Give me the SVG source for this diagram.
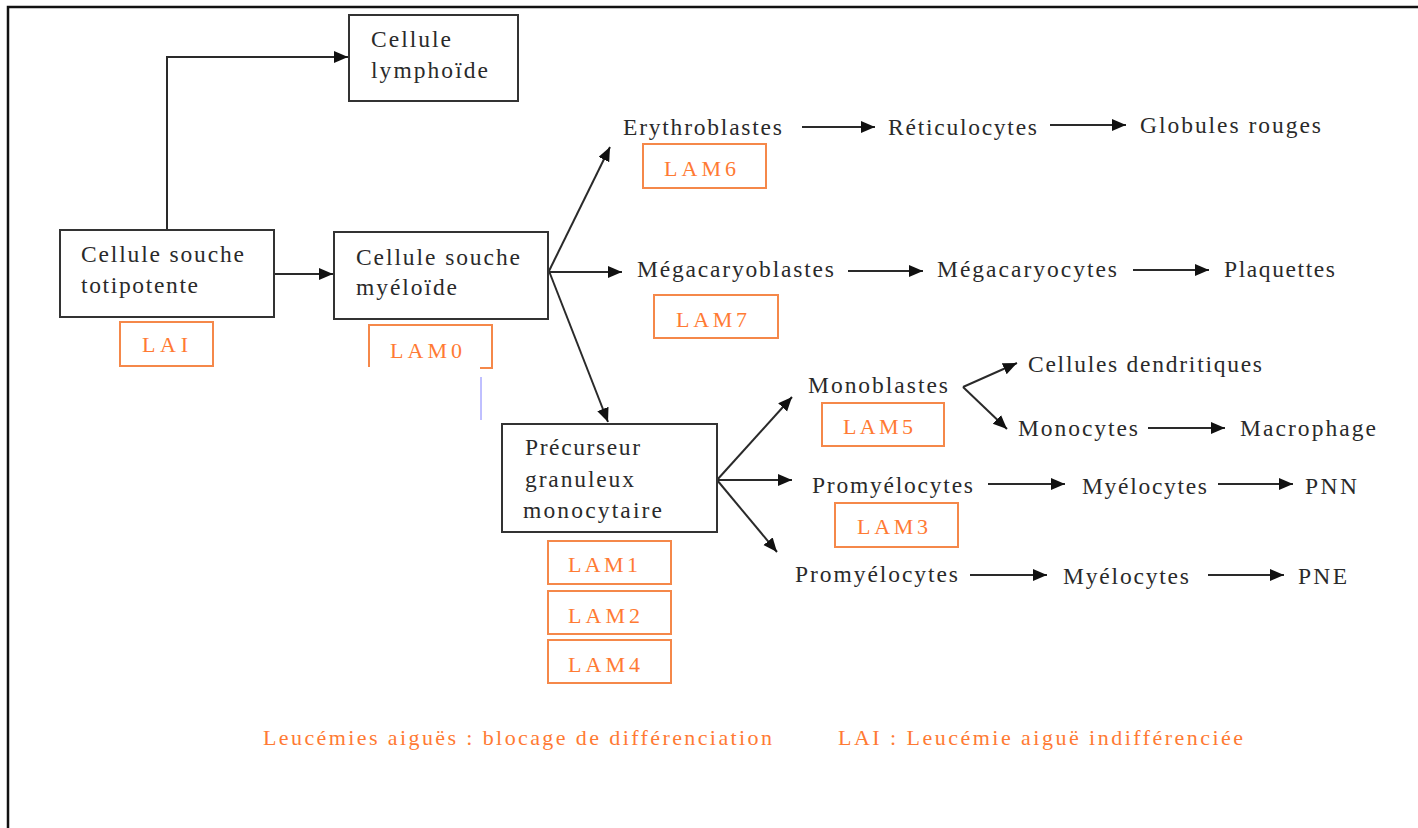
<svg xmlns="http://www.w3.org/2000/svg" width="1418" height="828" viewBox="0 0 1418 828">
<style>
.bg{fill:#fff}
.frame{fill:none;stroke:#111;stroke-width:2.5}
.box{fill:#fff;stroke:#333;stroke-width:2}
.obox{fill:none;stroke:#F5884A;stroke-width:2}
.t{font-family:"Liberation Serif",serif;font-size:23.5px;fill:#2a2a2a}
.o{font-family:"Liberation Serif",serif;font-size:22px;fill:#FF7A33}
.leg{font-family:"Liberation Serif",serif;font-size:22px;fill:#FF7A33}
.c{fill:none;stroke:#2a2a2a;stroke-width:2}
</style>
<defs>
<marker id="ah" markerUnits="userSpaceOnUse" markerWidth="15" markerHeight="13" refX="14" refY="6" orient="auto">
<path d="M0,0 L14,6 L0,12 z" fill="#111"/>
</marker>
</defs>
<rect class="bg" x="0" y="0" width="1418" height="828"/>
<path class="frame" d="M8,828 V7 H1418"/>

<g id="connectors">
<path class="c" d="M167,230 V57 H348" marker-end="url(#ah)"/>
<line class="c" x1="274" y1="274" x2="333" y2="274" marker-end="url(#ah)"/>
<line class="c" x1="549" y1="271" x2="610" y2="147" marker-end="url(#ah)"/>
<line class="c" x1="549" y1="272" x2="622" y2="272" marker-end="url(#ah)"/>
<line class="c" x1="549" y1="271" x2="608" y2="422" marker-end="url(#ah)"/>
<line class="c" x1="802" y1="127" x2="875" y2="127" marker-end="url(#ah)"/>
<line class="c" x1="1050" y1="125" x2="1126" y2="125" marker-end="url(#ah)"/>
<line class="c" x1="848" y1="271" x2="923" y2="271" marker-end="url(#ah)"/>
<line class="c" x1="1133" y1="270" x2="1209" y2="270" marker-end="url(#ah)"/>
<line class="c" x1="717" y1="480" x2="792" y2="397" marker-end="url(#ah)"/>
<line class="c" x1="717" y1="480" x2="792" y2="480" marker-end="url(#ah)"/>
<line class="c" x1="717" y1="480" x2="777" y2="552" marker-end="url(#ah)"/>
<line class="c" x1="963" y1="387" x2="1017" y2="363" marker-end="url(#ah)"/>
<line class="c" x1="963" y1="387" x2="1007" y2="429" marker-end="url(#ah)"/>
<line class="c" x1="1148" y1="428" x2="1225" y2="428" marker-end="url(#ah)"/>
<line class="c" x1="988" y1="484" x2="1065" y2="484" marker-end="url(#ah)"/>
<line class="c" x1="1218" y1="484" x2="1293" y2="484" marker-end="url(#ah)"/>
<line class="c" x1="970" y1="575" x2="1047" y2="575" marker-end="url(#ah)"/>
<line class="c" x1="1208" y1="575" x2="1284" y2="575" marker-end="url(#ah)"/>
<line x1="481" y1="377" x2="481" y2="420" stroke="#8080ff" stroke-width="1"/>
</g>

<g id="lymphoide">
<rect class="box" x="349" y="15" width="169" height="86"/>
<text class="t" x="371" y="47" textLength="80" lengthAdjust="spacing">Cellule</text>
<text class="t" x="371" y="78" textLength="117" lengthAdjust="spacing">lymphoïde</text>
</g>

<g id="totipotente">
<rect class="box" x="60" y="230" width="214" height="87"/>
<text class="t" x="81" y="262" textLength="163" lengthAdjust="spacing">Cellule souche</text>
<text class="t" x="81" y="293" textLength="117" lengthAdjust="spacing">totipotente</text>
</g>

<g id="lai">
<rect class="obox" x="120" y="322" width="93" height="44"/>
<text class="o" x="142" y="352" textLength="46" lengthAdjust="spacing">LAI</text>
</g>

<g id="myeloide">
<rect class="box" x="334" y="232" width="214" height="87"/>
<text class="t" x="356" y="265" textLength="164" lengthAdjust="spacing">Cellule souche</text>
<text class="t" x="356" y="295" textLength="101" lengthAdjust="spacing">myéloïde</text>
</g>

<g id="lam0">
<path class="obox" d="M480,368 H492 V325 H369 V367"/>
<text class="o" x="390" y="358" textLength="72" lengthAdjust="spacing">LAM0</text>
</g>

<g id="erythroblastes">
<text class="t" x="623" y="135" textLength="159" lengthAdjust="spacing">Erythroblastes</text>
</g>
<g id="lam6">
<rect class="obox" x="643" y="144" width="123" height="44"/>
<text class="o" x="664" y="176" textLength="72" lengthAdjust="spacing">LAM6</text>
</g>
<g id="reticulocytes">
<text class="t" x="888" y="135" textLength="149" lengthAdjust="spacing">Réticulocytes</text>
</g>
<g id="globules">
<text class="t" x="1140" y="133" textLength="181" lengthAdjust="spacing">Globules rouges</text>
</g>

<g id="megacaryoblastes">
<text class="t" x="637" y="277" textLength="197" lengthAdjust="spacing">Mégacaryoblastes</text>
</g>
<g id="lam7">
<rect class="obox" x="654" y="295" width="124" height="43"/>
<text class="o" x="676" y="327" textLength="71" lengthAdjust="spacing">LAM7</text>
</g>
<g id="megacaryocytes">
<text class="t" x="937" y="277" textLength="180" lengthAdjust="spacing">Mégacaryocytes</text>
</g>
<g id="plaquettes">
<text class="t" x="1224" y="277" textLength="111" lengthAdjust="spacing">Plaquettes</text>
</g>

<g id="precurseur">
<rect class="box" x="502" y="424" width="215" height="108"/>
<text class="t" x="525" y="455" textLength="115" lengthAdjust="spacing">Précurseur</text>
<text class="t" x="525" y="487" textLength="109" lengthAdjust="spacing">granuleux</text>
<text class="t" x="523" y="518" textLength="139" lengthAdjust="spacing">monocytaire</text>
</g>
<g id="lam1">
<rect class="obox" x="548" y="541" width="123" height="43"/>
<text class="o" x="568" y="572" textLength="70" lengthAdjust="spacing">LAM1</text>
</g>
<g id="lam2">
<rect class="obox" x="548" y="591" width="123" height="43"/>
<text class="o" x="568" y="623" textLength="72" lengthAdjust="spacing">LAM2</text>
</g>
<g id="lam4">
<rect class="obox" x="548" y="640" width="123" height="43"/>
<text class="o" x="568" y="672" textLength="72" lengthAdjust="spacing">LAM4</text>
</g>

<g id="monoblastes">
<text class="t" x="808" y="393" textLength="140" lengthAdjust="spacing">Monoblastes</text>
</g>
<g id="lam5">
<rect class="obox" x="822" y="403" width="122" height="43"/>
<text class="o" x="843" y="434" textLength="70" lengthAdjust="spacing">LAM5</text>
</g>
<g id="dendritiques">
<text class="t" x="1028" y="372" textLength="234" lengthAdjust="spacing">Cellules dendritiques</text>
</g>
<g id="monocytes">
<text class="t" x="1018" y="436" textLength="120" lengthAdjust="spacing">Monocytes</text>
</g>
<g id="macrophage">
<text class="t" x="1240" y="436" textLength="136" lengthAdjust="spacing">Macrophage</text>
</g>

<g id="promyelocytes1">
<text class="t" x="812" y="493" textLength="161" lengthAdjust="spacing">Promyélocytes</text>
</g>
<g id="lam3">
<rect class="obox" x="835" y="503" width="123" height="44"/>
<text class="o" x="857" y="534" textLength="71" lengthAdjust="spacing">LAM3</text>
</g>
<g id="myelocytes1">
<text class="t" x="1082" y="494" textLength="125" lengthAdjust="spacing">Myélocytes</text>
</g>
<g id="pnn">
<text class="t" x="1305" y="494" textLength="52" lengthAdjust="spacing">PNN</text>
</g>

<g id="promyelocytes2">
<text class="t" x="795" y="582" textLength="163" lengthAdjust="spacing">Promyélocytes</text>
</g>
<g id="myelocytes2">
<text class="t" x="1063" y="584" textLength="126" lengthAdjust="spacing">Myélocytes</text>
</g>
<g id="pne">
<text class="t" x="1298" y="584" textLength="49" lengthAdjust="spacing">PNE</text>
</g>

<g id="legend">
<text class="leg" x="263" y="745" textLength="509" lengthAdjust="spacing">Leucémies aiguës : blocage de différenciation</text>
<text class="leg" x="838" y="745" textLength="405" lengthAdjust="spacing">LAI : Leucémie aiguë indifférenciée</text>
</g>
</svg>
